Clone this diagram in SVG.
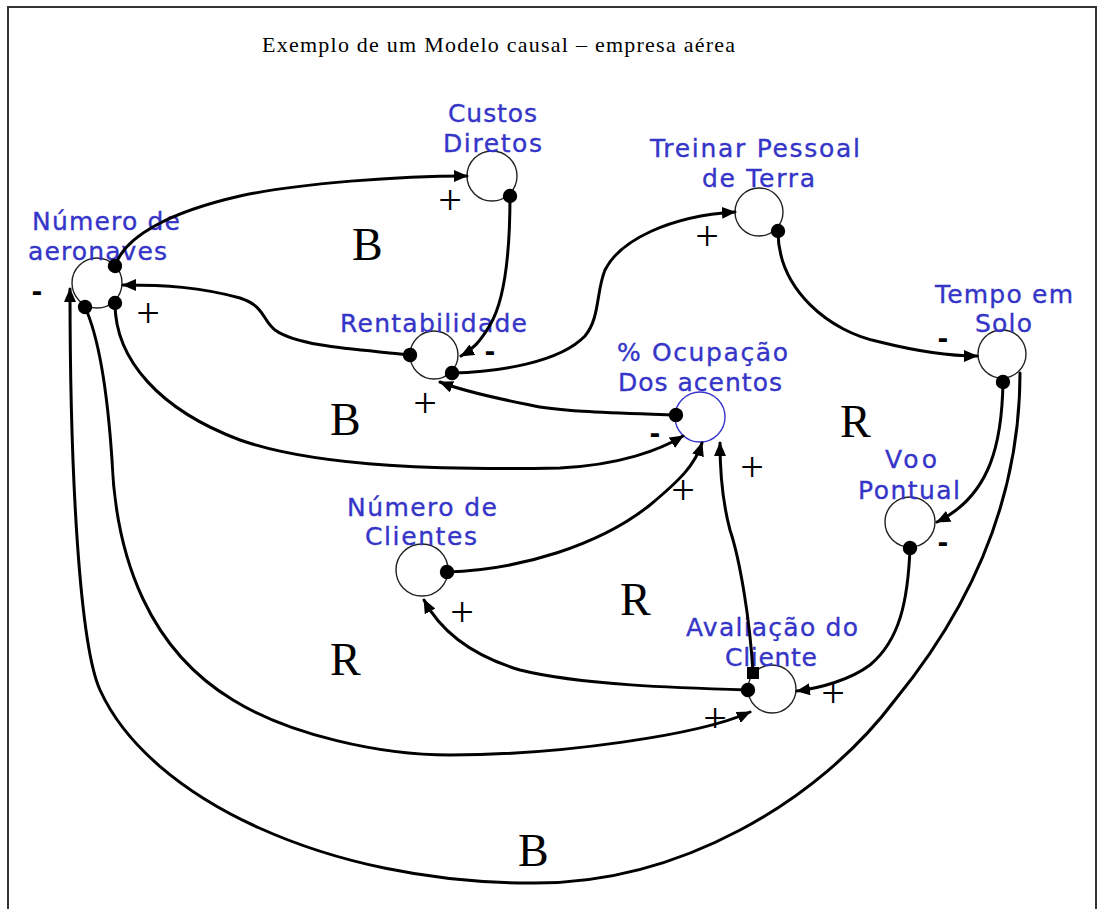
<svg xmlns="http://www.w3.org/2000/svg" width="1100" height="909" viewBox="0 0 1100 909">
<style>
.lbl{font-family:"DejaVu Sans","Verdana",sans-serif;font-size:25px;fill:#3535c8;stroke:#3535c8;stroke-width:0.35}
.node{fill:#fff;stroke:#222;stroke-width:1.4}
.conn{fill:none;stroke:#000;stroke-width:3;stroke-linecap:round}
.loop{font-family:"Liberation Serif","Times New Roman",serif;font-size:46px;fill:#000}
.plus{font-family:"Liberation Serif","Times New Roman",serif;font-size:42px;fill:#000;text-anchor:middle}
.minus{font-family:"DejaVu Sans",sans-serif;font-weight:bold;font-size:26px;fill:#000;text-anchor:middle}
.title{font-family:"Liberation Serif","Times New Roman",serif;font-size:22px;fill:#000}
</style>
<defs>
<marker id="arr" markerUnits="userSpaceOnUse" markerWidth="14" markerHeight="12" refX="13" refY="6" orient="auto">
<path d="M0,0 L14,6 L0,12 z" fill="#000"/>
</marker>
<marker id="dot" markerUnits="userSpaceOnUse" markerWidth="16" markerHeight="16" refX="8" refY="8" orient="auto">
<circle cx="8" cy="8" r="7.2" fill="#000"/>
</marker>
<marker id="sq" markerUnits="userSpaceOnUse" markerWidth="14" markerHeight="14" refX="7" refY="7">
<rect x="1" y="1" width="12" height="12" fill="#000"/>
</marker>
</defs>
<rect width="1100" height="909" fill="#fff"/>
<path d="M8,909 V7 H1096 V909" fill="none" stroke="#333" stroke-width="2"/>
<text class="title" x="262" y="52" textLength="473" lengthAdjust="spacing">Exemplo de um Modelo causal – empresa aérea</text>

<g id="node-aeronaves">
<circle class="node" cx="97" cy="283" r="25"/>
<text class="lbl" x="32" y="230" textLength="148" lengthAdjust="spacing">Número de</text>
<text class="lbl" x="28" y="260" textLength="139" lengthAdjust="spacing">aeronaves</text>
</g>
<g id="node-custos">
<circle class="node" cx="492" cy="176" r="25"/>
<text class="lbl" x="448" y="122" textLength="89" lengthAdjust="spacing">Custos</text>
<text class="lbl" x="443" y="152" textLength="99" lengthAdjust="spacing">Diretos</text>
</g>
<g id="node-rentabilidade">
<circle class="node" cx="434" cy="355" r="24"/>
<text class="lbl" x="340" y="332" textLength="187" lengthAdjust="spacing">Rentabilidade</text>
</g>
<g id="node-treinar">
<circle class="node" cx="759" cy="212" r="24"/>
<text class="lbl" x="650" y="157" textLength="210" lengthAdjust="spacing">Treinar Pessoal</text>
<text class="lbl" x="702" y="187" textLength="113" lengthAdjust="spacing">de Terra</text>
</g>
<g id="node-ocupacao">
<circle cx="700" cy="417" r="25" fill="#fff" stroke="#3535c8" stroke-width="1.4"/>
<text class="lbl" x="617" y="361" textLength="171" lengthAdjust="spacing">% Ocupação</text>
<text class="lbl" x="618" y="391" textLength="164" lengthAdjust="spacing">Dos acentos</text>
</g>
<g id="node-tempo">
<circle class="node" cx="1002" cy="354" r="24"/>
<text class="lbl" x="935" y="303" textLength="138" lengthAdjust="spacing">Tempo em</text>
<text class="lbl" x="975" y="332" textLength="57" lengthAdjust="spacing">Solo</text>
</g>
<g id="node-voo">
<circle class="node" cx="910" cy="522" r="25"/>
<text class="lbl" x="885" y="468" textLength="52" lengthAdjust="spacing">Voo</text>
<text class="lbl" x="858" y="499" textLength="102" lengthAdjust="spacing">Pontual</text>
</g>
<g id="node-clientes">
<circle class="node" cx="422" cy="570" r="26"/>
<text class="lbl" x="347" y="516" textLength="150" lengthAdjust="spacing">Número de</text>
<text class="lbl" x="365" y="545" textLength="112" lengthAdjust="spacing">Clientes</text>
</g>
<g id="node-avaliacao">
<circle class="node" cx="772" cy="689" r="24"/>
<text class="lbl" x="686" y="636" textLength="172" lengthAdjust="spacing">Avaliação do</text>
<text class="lbl" x="725" y="666" textLength="92" lengthAdjust="spacing">Cliente</text>
</g>

<g id="connectors">
<path class="conn" marker-start="url(#dot)" marker-end="url(#arr)" d="M115,266 C125,236 170,212 240,196 C300,183 400,176 467,176"/>
<path class="conn" marker-start="url(#dot)" marker-end="url(#arr)" d="M510,196 C510,250 505,300 490,325 C480,342 472,350 461,356"/>
<path class="conn" marker-start="url(#dot)" marker-end="url(#arr)" d="M410,355 C370,350 300,348 275,330 C262,320 265,306 240,298 C200,287 165,285 123,285"/>
<path class="conn" marker-start="url(#dot)" marker-end="url(#arr)" d="M452,373 C500,372 560,362 585,336 C600,318 596,292 605,270 C620,240 670,216 735,212"/>
<path class="conn" marker-start="url(#dot)" marker-end="url(#arr)" d="M778,231 C778,290 830,332 880,342 C920,352 950,356 977,356"/>
<path class="conn" marker-start="url(#dot)" marker-end="url(#arr)" d="M1003,382 C1002,440 992,495 937,522"/>
<path class="conn" marker-end="url(#arr)" d="M1020,373 C1020,480 985,590 895,700 C820,800 680,885 530,883 C330,883 150,800 100,690 C80,646 70,480 70,289"/>
<path class="conn" marker-start="url(#dot)" marker-end="url(#arr)" d="M85,307 C100,340 108,400 112,460 C116,560 150,650 233,700 C290,735 380,755 450,755 C560,755 700,735 750,712"/>
<path class="conn" marker-start="url(#dot)" marker-end="url(#arr)" d="M115,303 C115,360 160,410 240,440 C320,468 450,470 560,468 C620,465 660,450 683,436"/>
<path class="conn" marker-start="url(#dot)" marker-end="url(#arr)" d="M676,415 C620,413 560,412 530,405 C490,397 460,390 440,382"/>
<path class="conn" marker-start="url(#dot)" marker-end="url(#arr)" d="M447,572 C520,570 600,545 650,505 C680,480 695,465 702,443"/>
<path class="conn" marker-start="url(#sq)" marker-end="url(#arr)" d="M753,673 C750,620 740,560 730,530 C722,500 720,470 720,443"/>
<path class="conn" marker-start="url(#dot)" marker-end="url(#arr)" d="M748,690 C680,688 580,685 520,670 C470,655 440,630 424,600"/>
<path class="conn" marker-start="url(#dot)" marker-end="url(#arr)" d="M910,548 C908,600 900,640 870,665 C850,680 820,688 797,691"/>
</g>

<g id="polarities">
<text class="plus" x="450" y="214">+</text>
<text class="plus" x="148" y="327">+</text>
<text class="plus" x="707" y="250">+</text>
<text class="plus" x="425" y="417">+</text>
<text class="plus" x="683" y="504">+</text>
<text class="plus" x="752" y="481">+</text>
<text class="plus" x="462" y="626">+</text>
<text class="plus" x="715" y="732">+</text>
<text class="plus" x="833" y="707">+</text>
<text class="minus" x="37" y="301">-</text>
<text class="minus" x="490" y="361">-</text>
<text class="minus" x="943" y="348">-</text>
<text class="minus" x="943" y="552">-</text>
<text class="minus" x="655" y="443">-</text>
</g>

<g id="loops">
<text class="loop" x="352" y="260">B</text>
<text class="loop" x="330" y="435">B</text>
<text class="loop" x="840" y="437">R</text>
<text class="loop" x="620" y="615">R</text>
<text class="loop" x="330" y="675">R</text>
<text class="loop" x="518" y="866">B</text>
</g>
</svg>
